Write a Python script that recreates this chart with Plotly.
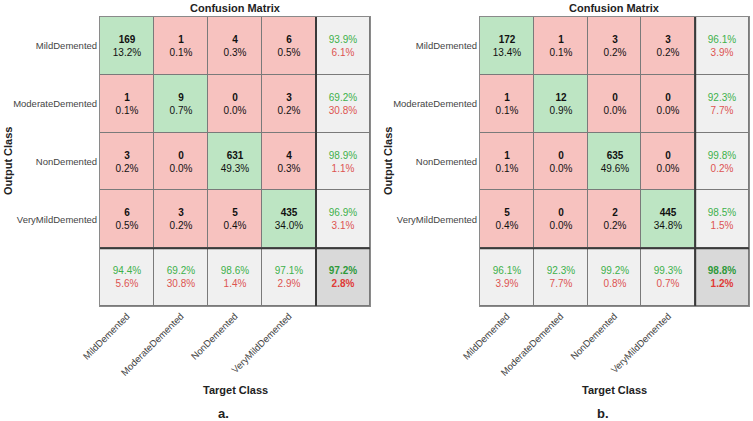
import plotly.graph_objects as go

classes = ["MildDemented", "ModerateDemented", "NonDemented", "VeryMildDemented"]
counts_a = [[169, 1, 4, 6],
            [1, 9, 0, 3],
            [3, 0, 631, 4],
            [6, 3, 5, 435]]
counts_b = [[172, 1, 3, 3],
            [1, 12, 0, 0],
            [1, 0, 635, 0],
            [5, 0, 2, 445]]
panel_labels = ["a.", "b."]

GREEN_BG = "#BDE5C3"
RED_BG = "#F7C2BF"
GRAY_BG = "#F0F0F0"
DGRAY_BG = "#D9D9D9"
GREEN_TX = "#3DB14B"
RED_TX = "#DD5450"
GREEN_TX_B = "#2E9A3A"
RED_TX_B = "#E03A36"
FONT = "Liberation Sans, Arial, sans-serif"

W, H = 753, 421
def px(x): return x / W
def py(y): return 1 - y / H

x_domains = [[px(100), px(370)], [px(480), px(749)]]
y_domain = [py(306), py(17)]


def build(counts):
    n = len(counts)
    total = sum(sum(r) for r in counts)
    z, text = [], []
    for i in range(n + 1):
        zr, tr = [], []
        for j in range(n + 1):
            if i < n and j < n:
                c = counts[i][j]
                zr.append(1 if i == j else 0)
                tr.append(f"<b>{c}</b><br>{100 * c / total:.1f}%")
            elif i < n and j == n:
                rs = sum(counts[i])
                acc = 100 * counts[i][i] / rs
                err = 100 * (rs - counts[i][i]) / rs
                zr.append(2)
                tr.append(f"<span style='color:{GREEN_TX}'>{acc:.1f}%</span><br>"
                          f"<span style='color:{RED_TX}'>{err:.1f}%</span>")
            elif i == n and j < n:
                cs = sum(counts[k][j] for k in range(n))
                acc = 100 * counts[j][j] / cs
                err = 100 * (cs - counts[j][j]) / cs
                zr.append(2)
                tr.append(f"<span style='color:{GREEN_TX}'>{acc:.1f}%</span><br>"
                          f"<span style='color:{RED_TX}'>{err:.1f}%</span>")
            else:
                d = sum(counts[k][k] for k in range(n))
                acc = 100 * d / total
                err = 100 * (total - d) / total
                zr.append(3)
                tr.append(f"<b><span style='color:{GREEN_TX_B}'>{acc:.1f}%</span><br>"
                          f"<span style='color:{RED_TX_B}'>{err:.1f}%</span></b>")
        z.append(zr)
        text.append(tr)
    return z, text


colorscale = [[0, RED_BG], [0.25, RED_BG], [0.25, GREEN_BG], [0.5, GREEN_BG],
              [0.5, GRAY_BG], [0.75, GRAY_BG], [0.75, DGRAY_BG], [1, DGRAY_BG]]

fig = go.Figure()
annotations = []
shapes = []
n = len(classes)
for k, counts in enumerate([counts_a, counts_b]):
    z, text = build(counts)
    xa = "x" if k == 0 else "x2"
    ya = "y" if k == 0 else "y2"
    fig.add_trace(go.Heatmap(
        z=z, x=list(range(n + 1)), y=list(range(n + 1)),
        text=text, texttemplate="%{text}",
        textfont=dict(family=FONT, size=10, color="#111111"),
        colorscale=colorscale, zmin=-0.5, zmax=3.5, showscale=False,
        xgap=1, ygap=1, hoverinfo="skip", xaxis=xa, yaxis=ya))
    axn = "" if k == 0 else "2"
    fig.update_layout(**{
        f"xaxis{axn}": dict(domain=x_domains[k], range=[-0.5, n + 0.5],
                            tickvals=list(range(n)), ticktext=classes, tickangle=-45,
                            showgrid=False, zeroline=False, ticks="", anchor=ya,
                            automargin=False,
                            showline=True, mirror=True, linecolor="#8a8a8a", linewidth=1,
                            tickfont=dict(family=FONT, size=9.5, color="#444444")),
        f"yaxis{axn}": dict(domain=y_domain, range=[n + 0.5, -0.5],
                            tickvals=list(range(n)), ticktext=classes,
                            showgrid=False, zeroline=False, ticks="", anchor=xa,
                            automargin=False,
                            showline=True, mirror=True, linecolor="#8a8a8a", linewidth=1,
                            ticksuffix=" ",
                            tickfont=dict(family=FONT, size=9.5, color="#444444")),
    })
    # thick separators before summary row/column
    shapes.append(dict(type="line", xref=xa, yref=ya, x0=n - 0.5, x1=n - 0.5,
                       y0=-0.5, y1=n + 0.5, line=dict(color="#3a3a3a", width=2)))
    shapes.append(dict(type="line", xref=xa, yref=ya, x0=-0.5, x1=n + 0.5,
                       y0=n - 0.5, y1=n - 0.5, line=dict(color="#3a3a3a", width=2)))
    xc = (x_domains[k][0] + x_domains[k][1]) / 2
    common = dict(xref="paper", yref="paper", showarrow=False,
                  xanchor="center", yanchor="middle")
    annotations.append(dict(text="<b>Confusion Matrix</b>", x=xc, y=py(8),
                            font=dict(family=FONT, size=11, color="#222222"), **common))
    annotations.append(dict(text="<b>Target Class</b>", x=xc, y=py(390),
                            font=dict(family=FONT, size=11, color="#222222"), **common))
    annotations.append(dict(text=f"<b>{panel_labels[k]}</b>", x=xc - px(12), y=py(413),
                            font=dict(family=FONT, size=13, color="#222222"), **common))
    annotations.append(dict(text="<b>Output Class</b>", x=px(8 + 380 * k), y=py(161),
                            textangle=-90,
                            font=dict(family=FONT, size=11, color="#222222"), **common))

fig.update_layout(width=W, height=H, margin=dict(l=0, r=0, t=0, b=0, autoexpand=False),
                  paper_bgcolor="white", plot_bgcolor="#7a7a7a",
                  annotations=annotations, shapes=shapes, showlegend=False)
fig.write_html("out.html", config={"displayModeBar": False},
               post_script="document.body.style.margin='0';document.body.style.overflow='hidden';")
